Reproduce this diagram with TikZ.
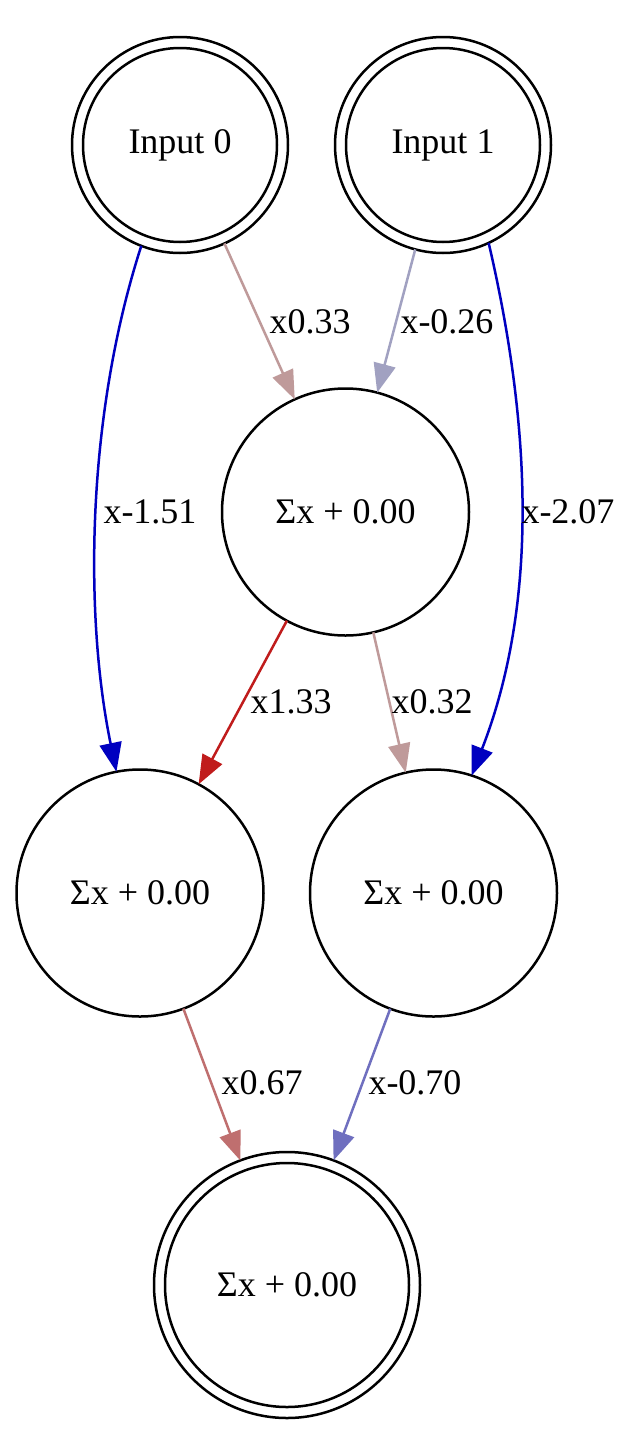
\documentclass[tikz,border=0pt]{standalone}
\usepackage{fontspec}
\setmainfont{Liberation Serif}
\usetikzlibrary{arrows.meta}
\definecolor{cA}{RGB}{191,154,154}
\definecolor{cB}{RGB}{161,161,193}
\definecolor{cBlue}{RGB}{0,0,192}
\definecolor{cRed}{RGB}{192,28,28}
\definecolor{cC}{RGB}{191,111,111}
\definecolor{cD}{RGB}{111,111,191}
\begin{document}
\begin{tikzpicture}[x=1pt,y=-1pt,
  every node/.style={font=\fontsize{36}{43}\selectfont},
  sumnode/.style={circle,draw,line width=2.5pt,minimum size=247pt,inner sep=0pt,outer sep=0pt},
  innode/.style={circle,draw,line width=2.5pt,minimum size=216pt,inner sep=0pt,outer sep=0pt,
    path picture={\draw[line width=2.5pt] (path picture bounding box.center) circle (97pt);}},
  outnode/.style={circle,draw,line width=2.5pt,minimum size=266pt,inner sep=0pt,outer sep=0pt,
    path picture={\draw[line width=2.5pt] (path picture bounding box.center) circle (122pt);}},
  conn/.style={line width=2.5pt,-{Triangle[length=29pt,width=22pt]}},
  lab/.style={inner sep=0pt}
]
\useasboundingbox (0,0) rectangle (640,1446);
\fill[white] (0,0) rectangle (640,1446);

\node[innode] (in0) at (180,145) {Input 0};
\node[innode] (in1) at (443,145) {Input 1};
\node[sumnode] (mid) at (345.5,512) {Σx + 0.00};
\node[sumnode] (lb) at (140,893) {Σx + 0.00};
\node[sumnode] (rb) at (433.5,893) {Σx + 0.00};
\node[outnode] (out) at (287,1285) {Σx + 0.00};

\draw[conn,cA] (in0) -- (mid);
\draw[conn,cB] (in1) -- (mid);
\draw[conn,cBlue] (in0.-111) .. controls (85,420) and (85,620) .. (lb.101);
\draw[conn,cBlue] (in1.-65) .. controls (530,420) and (540,600) .. (rb.72);
\draw[conn,cRed] (mid) -- (lb);
\draw[conn,cA] (mid) -- (rb);
\draw[conn,cC] (lb) -- (out);
\draw[conn,cD] (rb) -- (out);

\node[lab] (l1) at (310,322) {x0.33};
\node[lab] (l2) at (447,322) {x-0.26};
\node[lab] (l3) at (150,512) {x-1.51};
\node[lab] (l4) at (568,512) {x-2.07};
\node[lab] (l5) at (291,702) {x1.33};
\node[lab] (l6) at (432,702) {x0.32};
\node[lab] (l7) at (262,1083) {x0.67};
\node[lab] (l8) at (415,1083) {x-0.70};
\end{tikzpicture}
\end{document}
